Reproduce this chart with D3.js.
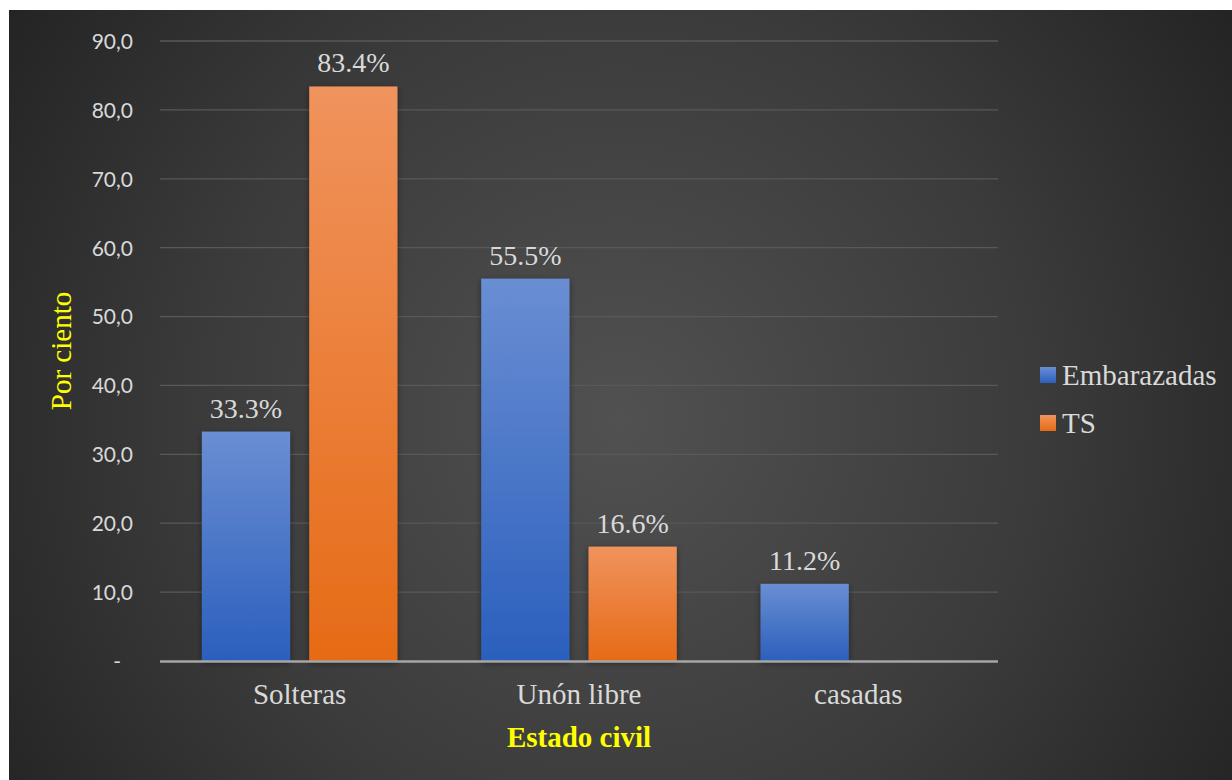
<!DOCTYPE html>
<html>
<head>
<meta charset="utf-8">
<script src="https://cdn.jsdelivr.net/npm/d3@7"></script>
<style>
  html, body { margin: 0; padding: 0; background: #ffffff; }
  svg { display: block; }
</style>
</head>
<body>
<script>
// Chart data
const categories = ["Solteras", "Unón libre", "casadas"];
const seriesNames = ["Embarazadas", "TS"];
const embarazadas = [33.3, 55.5, 11.2];
const ts = [83.4, 16.6, null];
const yTicks = [0, 10, 20, 30, 40, 50, 60, 70, 80, 90];

const W = 1232, H = 780;
const serif = "'Liberation Serif', 'Times New Roman', serif";
const svg = d3.select("body").append("svg").attr("width", W).attr("height", H);
const defs = svg.append("defs");

// Background: dark radial glow
const bg = defs.append("radialGradient").attr("id", "bgGrad")
  .attr("gradientUnits", "userSpaceOnUse")
  .attr("cx", 620).attr("cy", 420).attr("r", 760);
bg.append("stop").attr("offset", "0%").attr("stop-color", "#515151");
bg.append("stop").attr("offset", "55%").attr("stop-color", "#3b3b3b");
bg.append("stop").attr("offset", "100%").attr("stop-color", "#222222");

const gBlue = defs.append("linearGradient").attr("id", "gBlue").attr("x1", 0).attr("y1", 0).attr("x2", 0).attr("y2", 1);
gBlue.append("stop").attr("offset", "0%").attr("stop-color", "#6a8ed3");
gBlue.append("stop").attr("offset", "100%").attr("stop-color", "#2b5fbd");
const gOrange = defs.append("linearGradient").attr("id", "gOrange").attr("x1", 0).attr("y1", 0).attr("x2", 0).attr("y2", 1);
gOrange.append("stop").attr("offset", "0%").attr("stop-color", "#f0935d");
gOrange.append("stop").attr("offset", "100%").attr("stop-color", "#e66b16");

const shadow = defs.append("filter").attr("id", "shadow").attr("x", "-20%").attr("y", "-10%").attr("width", "140%").attr("height", "125%");
shadow.append("feDropShadow").attr("dx", 0).attr("dy", 2).attr("stdDeviation", 3)
  .attr("flood-color", "#000").attr("flood-opacity", 0.45);

svg.append("rect").attr("x", 9).attr("y", 10).attr("width", W - 9).attr("height", H - 10)
  .attr("fill", "url(#bgGrad)");

const plot = { left: 160, right: 998, top: 41, bottom: 661 };

const x0 = d3.scaleBand().domain(categories).range([plot.left, plot.right]).paddingInner(0.3).paddingOuter(0.15);
const x1 = d3.scaleBand().domain(seriesNames).range([0, x0.bandwidth()]).paddingInner(0.178);
const y = d3.scaleLinear().domain([0, 90]).range([plot.bottom, plot.top]);

// Gridlines
svg.append("g").selectAll("line").data(yTicks.filter(d => d > 0)).join("line")
  .attr("x1", plot.left).attr("x2", plot.right)
  .attr("y1", d => y(d)).attr("y2", d => y(d))
  .attr("stroke", "#595959").attr("stroke-width", 1.3);

// Y axis labels
const fmt = d => d === 0 ? "-" : d.toFixed(1).replace(".", ",");
const yAxis = d3.axisLeft(y).tickValues(yTicks).tickFormat(fmt).tickSize(0).tickPadding(0);
const yg = svg.append("g").attr("transform", `translate(133,0)`).call(yAxis);
yg.select(".domain").remove();
yg.selectAll("text").attr("fill", "#d9d9d9").attr("font-family", "Lato, 'Open Sans', sans-serif")
  .attr("font-size", 21).attr("dy", "0.35em");
yg.selectAll(".tick").filter(d => d === 0).select("text").attr("dx", -12);

// Bars
const seriesData = [
  { name: "Embarazadas", values: embarazadas, fill: "url(#gBlue)" },
  { name: "TS", values: ts, fill: "url(#gOrange)" }
];

const groups = svg.append("g").selectAll("g").data(categories).join("g")
  .attr("transform", d => `translate(${x0(d)},0)`);

groups.each(function(cat, i) {
  const g = d3.select(this);
  seriesData.forEach(s => {
    const v = s.values[i];
    if (v == null) return;
    g.append("rect")
      .attr("x", x1(s.name)).attr("width", x1.bandwidth())
      .attr("y", y(v)).attr("height", y(0) - y(v))
      .attr("fill", s.fill).attr("filter", "url(#shadow)");
    g.append("text")
      .attr("x", x1(s.name) + x1.bandwidth() / 2)
      .attr("y", y(v) - 14)
      .attr("text-anchor", "middle")
      .attr("font-family", serif)
      .attr("font-size", 28).attr("fill", "#d9d9d9")
      .text(v.toFixed(1) + "%");
  });
});

// X axis baseline
svg.append("line").attr("x1", plot.left).attr("x2", plot.right)
  .attr("y1", y(0) + 0.5).attr("y2", y(0) + 0.5)
  .attr("stroke", "#a6a6a6").attr("stroke-width", 2.5);

// Category labels
svg.append("g").selectAll("text").data(categories).join("text")
  .attr("x", d => x0(d) + x0.bandwidth() / 2)
  .attr("y", 704)
  .attr("text-anchor", "middle")
  .attr("font-family", serif)
  .attr("font-size", 29).attr("fill", "#d9d9d9")
  .text(d => d);

// Axis titles
svg.append("text")
  .attr("x", (plot.left + plot.right) / 2).attr("y", 747)
  .attr("text-anchor", "middle")
  .attr("font-family", serif)
  .attr("font-size", 29).attr("font-weight", "bold").attr("fill", "#ffff00")
  .text("Estado civil");

svg.append("text")
  .attr("transform", `translate(71,351) rotate(-90)`)
  .attr("text-anchor", "middle")
  .attr("font-family", serif)
  .attr("font-size", 29).attr("fill", "#ffff00")
  .text("Por ciento");

// Legend
const legend = svg.append("g").attr("transform", "translate(1040,367)");
const li = legend.selectAll("g").data(seriesData).join("g")
  .attr("transform", (d, i) => `translate(0,${i * 48})`);
li.append("rect").attr("width", 16).attr("height", 16).attr("fill", d => d.fill);
li.append("text").attr("x", 22).attr("y", 8).attr("dy", "0.36em")
  .attr("font-family", serif)
  .attr("font-size", 29).attr("fill", "#d9d9d9")
  .text(d => d.name);
</script>
</body>
</html>
